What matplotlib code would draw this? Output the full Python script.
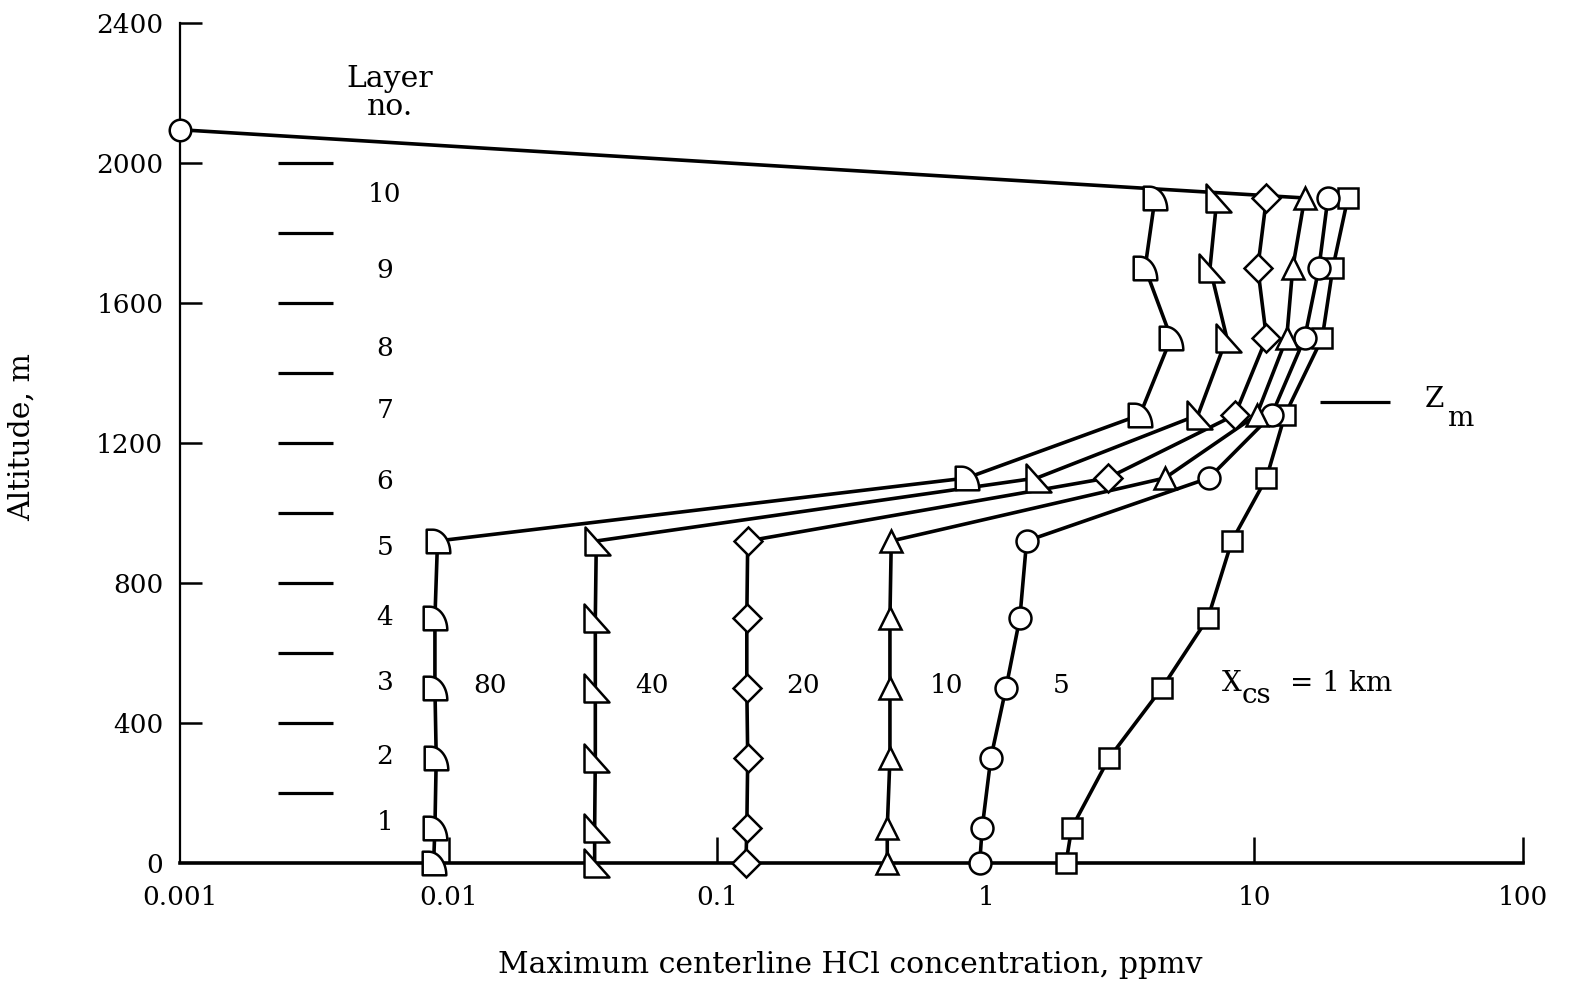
import numpy as np
import matplotlib
matplotlib.use("Agg")
import matplotlib.pyplot as plt
from matplotlib.path import Path

plt.rcParams['font.family'] = ['DejaVu Serif']

# ---------------- data ----------------
altitude = [0, 100, 300, 500, 700, 920, 1100, 1280, 1500, 1700, 1900]
conc_1km = [1.99, 2.09, 2.88, 4.53, 6.72, 8.25, 11.1, 13.0, 17.9, 19.6, 22.3]
conc_5km = [0.95, 0.97, 1.045, 1.19, 1.34, 1.42, 6.78, 11.6, 15.4, 17.4, 18.8]
conc_10km = [0.43, 0.43, 0.44, 0.44, 0.44, 0.445, 4.65, 10.2, 13.2, 13.9, 15.4]
conc_20km = [0.128, 0.129, 0.13, 0.129, 0.129, 0.13, 2.85, 8.47, 11.1, 10.3, 11.1]
conc_40km = [0.035, 0.035, 0.0352, 0.0352, 0.0352, 0.0355, 1.55, 6.17, 7.9, 6.84, 7.26]
conc_80km = [0.0088, 0.0089, 0.009, 0.0089, 0.0089, 0.0091, 0.85, 3.75, 4.9, 3.92, 4.27]

top_x = [0.001, 15.4]
top_alt = [2095, 1900]

series_labels = ['80', '40', '20', '10', '5']
series_label_x = [0.0143, 0.0572, 0.209, 0.717, 1.905]
series_label_alt = 506

layer_numbers = ['1', '2', '3', '4', '5', '6', '7', '8', '9', '10']
layer_label_alt = [117, 303, 517, 700, 900, 1089, 1294, 1471, 1694, 1909]
layer_bounds = [200, 400, 600, 800, 1000, 1200, 1400, 1600, 1800, 2000]
layer_dash_x = [0.00232, 0.00371]

zm_alt = 1317
zm_x = [17.5, 32.0]

x_ticks = [0.001, 0.01, 0.1, 1, 10, 100]
x_ticklabels = ['0.001', '0.01', '0.1', '1', '10', '100']
y_ticks = [0, 400, 800, 1200, 1600, 2000, 2400]

# ---------------- custom markers ----------------
t = np.linspace(np.pi / 2, 0, 25)
qv = [(-0.5, -0.5), (-0.5, 0.5), (-0.25, 0.5)]
qv += [(-0.25 + 0.75 * np.cos(a), -0.5 + 1.0 * np.sin(a)) for a in t[1:]]
qv += [(-0.5, -0.5)]
quarter_marker = Path(qv, [Path.MOVETO] + [Path.LINETO] * (len(qv) - 2) + [Path.CLOSEPOLY])
rt = [(-0.4, 0.5), (-0.4, -0.5), (0.5, -0.5), (-0.4, 0.5)]
righttri_marker = Path(rt, [Path.MOVETO, Path.LINETO, Path.LINETO, Path.CLOSEPOLY])

# ---------------- figure ----------------
fig = plt.figure(figsize=(15.7, 9.82), dpi=100)
ax = fig.add_axes([0.1146, 0.1212, 0.8554, 0.8554])
ax.set_xscale('log')
ax.set_xlim(0.001, 100)
ax.set_ylim(0, 2400)

LW = 2.6
MEW = 1.8
common = dict(color='black', lw=LW, mfc='white', mec='black', mew=MEW, clip_on=False, zorder=3)
nolw = {k: v for k, v in common.items() if k != 'lw'}

ax.plot(top_x, top_alt, **common)
ax.plot(top_x[:1], top_alt[:1], marker='o', ms=15.5, ls='none', **nolw)

ax.plot(conc_1km, altitude, marker='s', ms=14.2, **common)
ax.plot(conc_5km, altitude, marker='o', ms=15.8, **common)
ax.plot(conc_10km, altitude, marker='^', ms=15.8, **common)
ax.plot(conc_20km, altitude, marker='D', ms=14.2, **common)
ax.plot(conc_40km, altitude, marker=righttri_marker, ms=20, **common)
ax.plot(conc_80km, altitude, marker=quarter_marker, ms=17, **common)

# layer boundary dashes
for b in layer_bounds:
    ax.plot(layer_dash_x, [b, b], color='black', lw=2.3, solid_capstyle='butt')
# Z_m dash
ax.plot(zm_x, [zm_alt, zm_alt], color='black', lw=2.3, solid_capstyle='butt')

fs_num = 19
fs_txt = 21.5
for lab, alt in zip(layer_numbers, layer_label_alt):
    ax.text(0.0058, alt, lab, ha='center', va='center', fontsize=fs_num)
ax.text(0.00605, 2200, 'Layer\nno.', ha='center', va='center', fontsize=fs_txt, linespacing=1.0)

for lab, xv in zip(series_labels, series_label_x):
    ax.text(xv, series_label_alt, lab, ha='center', va='center', fontsize=fs_num)

# X_cs = 1 km
ax.text(7.57, 514, 'X', ha='left', va='center', fontsize=20)
ax.text(9.0, 478, 'cs', ha='left', va='center', fontsize=20)
ax.text(13.6, 514, '= 1 km', ha='left', va='center', fontsize=20)
# Z_m
ax.text(43.1, 1323, 'Z', ha='left', va='center', fontsize=20)
ax.text(52.1, 1271, 'm', ha='left', va='center', fontsize=20)

# axes styling
for s in ['top', 'right']:
    ax.spines[s].set_visible(False)
ax.spines['bottom'].set_linewidth(2.6)
ax.spines['left'].set_linewidth(1.6)

ax.set_xticks(x_ticks)
ax.set_xticklabels(x_ticklabels)
ax.xaxis.set_minor_locator(matplotlib.ticker.NullLocator())
ax.set_yticks(y_ticks)
ax.tick_params(axis='x', direction='in', length=19, width=1.8, pad=16, labelsize=fs_num)
ax.tick_params(axis='y', direction='in', length=16, width=1.8, pad=12, labelsize=fs_num)
# hide tick marks at 0.001 and 1 (x) and 0 (y)
xt = ax.xaxis.get_major_ticks()
xt[0].tick1line.set_visible(False)
xt[3].tick1line.set_visible(False)
yt = ax.yaxis.get_major_ticks()
yt[0].tick1line.set_visible(False)

ax.set_xlabel('Maximum centerline HCl concentration, ppmv', fontsize=fs_txt, va='center')
ax.xaxis.set_label_coords(0.499, -0.121)
ax.set_ylabel('Altitude, m', fontsize=fs_txt, va='center', ha='center')
ax.yaxis.set_label_coords(-0.1177, 0.507)

fig.savefig('out.png', dpi=100)
